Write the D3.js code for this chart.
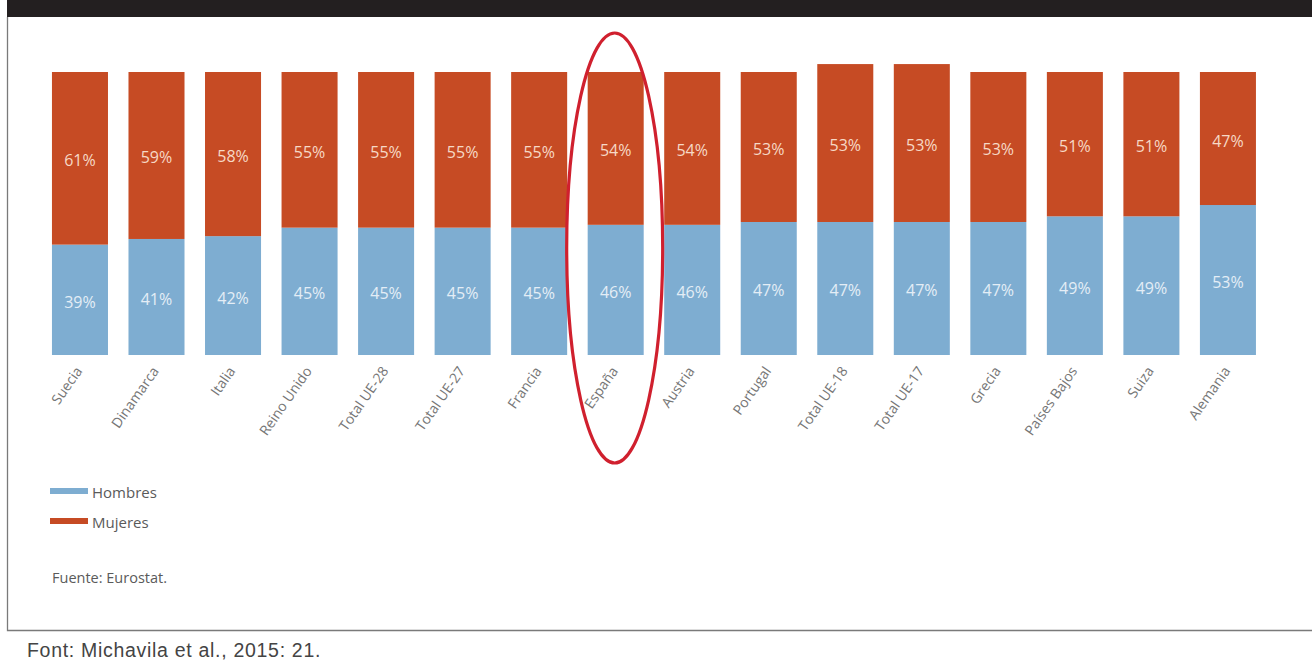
<!DOCTYPE html>
<html>
<head>
<meta charset="utf-8">
<script src="https://cdn.jsdelivr.net/npm/d3@7/dist/d3.min.js"></script>
<style>
  html, body { margin: 0; padding: 0; background: #fff; }
  svg { display: block; }
</style>
</head>
<body>
<svg id="chart" width="1312" height="662"></svg>
<script>
// ---- data ----
const categories = ["Suecia", "Dinamarca", "Italia", "Reino Unido", "Total UE-28", "Total UE-27",
  "Francia", "España", "Austria", "Portugal", "Total UE-18", "Total UE-17", "Grecia",
  "Países Bajos", "Suiza", "Alemania"];
const hombres = [39, 41, 42, 45, 45, 45, 45, 46, 46, 47, 47, 47, 47, 49, 49, 53];
const mujeres = [61, 59, 58, 55, 55, 55, 55, 54, 54, 53, 53, 53, 53, 51, 51, 47];
// drawn length of the Mujeres segment as it appears in the picture
const mujeresBar = [61, 59, 58, 55, 55, 55, 55, 54, 54, 53, 55.8, 55.8, 53, 51, 51, 47];
const seriesNames = ["Hombres", "Mujeres"];
const fuente = "Fuente: Eurostat.";
const footer = "Font: Michavila et al., 2015: 21.";
const highlighted = "España";

// ---- styles ----
const blue = "#7eadd1";
const red = "#c64b24";

const svg = d3.select("#chart");

// header band and frame
svg.append("rect").attr("x", 7).attr("y", 0).attr("width", 1305).attr("height", 17).attr("fill", "#231f20");
svg.append("path").attr("d", "M1312,630.5 H7.5 V17").attr("fill", "none")
  .attr("stroke", "#7a7a7a").attr("stroke-width", 1.3);

const x = d3.scaleBand().domain(categories).range([41.7, 1266.2]).paddingInner(0.268).paddingOuter(0.134);
const y = d3.scaleLinear().domain([0, 100]).range([355, 72]);

const data = categories.map((c, i) => ({ c, h: hombres[i], m: mujeres[i], mb: mujeresBar[i] }));

const g = svg.append("g");
// Hombres segments
g.selectAll("rect.h").data(data).join("rect").attr("class", "h")
  .attr("x", d => x(d.c)).attr("width", x.bandwidth())
  .attr("y", d => y(d.h)).attr("height", d => y(0) - y(d.h))
  .attr("fill", blue);
// Mujeres segments
g.selectAll("rect.m").data(data).join("rect").attr("class", "m")
  .attr("x", d => x(d.c)).attr("width", x.bandwidth())
  .attr("y", d => y(d.h + d.mb)).attr("height", d => y(d.h) - y(d.h + d.mb))
  .attr("fill", red);

// value labels
const lblFont = "'Open Sans', 'Noto Sans', sans-serif";
g.selectAll("text.hl").data(data).join("text").attr("class", "hl")
  .attr("x", d => x(d.c) + x.bandwidth() / 2)
  .attr("y", d => (y(0) + y(d.h)) / 2 + 2)
  .attr("text-anchor", "middle").attr("dominant-baseline", "central")
  .attr("font-family", lblFont).attr("font-size", 16).attr("fill", "#e4edf6")
  .text(d => d.h + "%");
g.selectAll("text.ml").data(data).join("text").attr("class", "ml")
  .attr("x", d => x(d.c) + x.bandwidth() / 2)
  .attr("y", d => (y(d.h) + y(d.h + d.mb)) / 2 + 2)
  .attr("text-anchor", "middle").attr("dominant-baseline", "central")
  .attr("font-family", lblFont).attr("font-size", 16).attr("fill", "#f6d9c6")
  .text(d => d.m + "%");

// x axis (category labels)
const xAxis = d3.axisBottom(x).tickSize(0).tickPadding(0);
const ax = svg.append("g").attr("transform", "translate(0,355)").call(xAxis);
ax.select(".domain").remove();
ax.selectAll(".tick text")
  .attr("font-family", lblFont).attr("font-size", 14).attr("fill", "#767676")
  .attr("text-anchor", "end").attr("dy", 0).attr("y", 0)
  .attr("transform", "translate(3,16) rotate(-55)");

// legend
const legend = svg.append("g");
[blue, red].forEach((col, i) => {
  legend.append("rect").attr("x", 50).attr("y", 488 + i * 30).attr("width", 38).attr("height", 6).attr("fill", col);
  legend.append("text").attr("x", 92).attr("y", 491.5 + i * 30).attr("dominant-baseline", "central")
    .attr("font-family", lblFont).attr("font-size", 15).attr("fill", "#5a5a5a").text(seriesNames[i]);
});
svg.append("text").attr("x", 52).attr("y", 577).attr("dominant-baseline", "central")
  .attr("font-family", lblFont).attr("font-size", 14.5).attr("fill", "#5a5a5a").text(fuente);

// footer
svg.append("text").attr("x", 27).attr("y", 657)
  .attr("font-family", "'Liberation Sans', Arial, sans-serif").attr("font-size", 19.5)
  .attr("letter-spacing", 0.7).attr("fill", "#444")
  .text(footer);

// highlight ellipse around España
const cx = x(highlighted) + x.bandwidth() / 2;
svg.append("ellipse").attr("cx", cx - 1).attr("cy", 248).attr("rx", 48).attr("ry", 215)
  .attr("fill", "none").attr("stroke", "#d0202e").attr("stroke-width", 3.2);
</script>
</body>
</html>
